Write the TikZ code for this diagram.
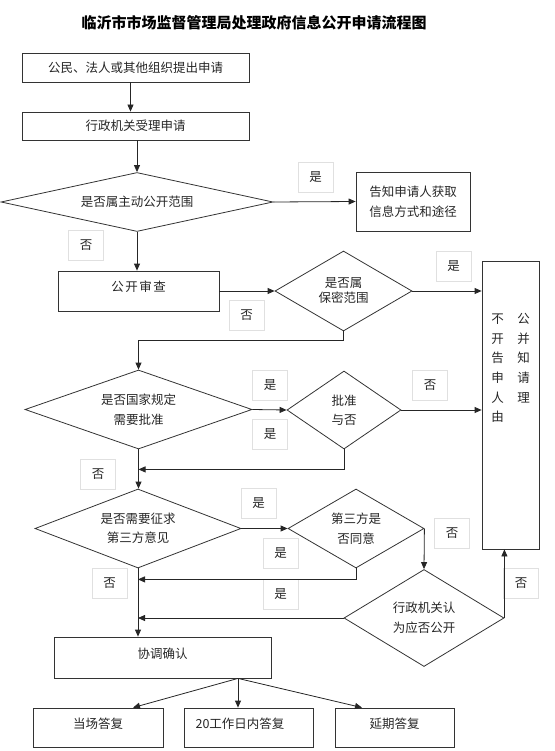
\documentclass[tikz,border=0pt]{standalone}
\usepackage{fontspec}
\setmainfont{Noto Sans CJK SC}
\usetikzlibrary{arrows.meta,shapes.geometric}

\begin{document}
\begin{tikzpicture}[x = 1pt, y = -1pt]
\tikzstyle{BoxStyle}=[
shape = rectangle,
draw = black!80,
line width = 0.8pt,
inner sep = 0pt,
align = center,
text = black!85,
font = \fontsize{12.5}{20}\selectfont]
\tikzstyle{DecideStyle}=[
shape = diamond,
draw = black!80,
line width = 0.8pt,
inner sep = 0pt,
align = center,
text = black!85,
font = \fontsize{12.5}{19.5}\selectfont]
\tikzstyle{NoteStyle}=[
draw = black!12,
line width = 0.6pt,
minimum width = 35pt,
minimum height = 30pt,
inner sep = 0pt,
text = black!85,
font = \fontsize{12.5}{15}\selectfont]
\tikzstyle{RaiseStyle}=[text depth = 9pt]
\tikzstyle{FlowStyle}=[-{Triangle[length = 7pt, width = 6pt]}, draw = black!85, line width = 0.8pt]
\useasboundingbox (0,0) rectangle (554,751);
% title
\node[font = \fontsize{15}{18}\selectfont\bfseries] (title) at (254,23) {临沂市市场监督管理局处理政府信息公开申请流程图};
% boxes and decisions
\node[BoxStyle, minimum width = 227pt, minimum height = 29pt] (apply) at (135.5,67.5) {公民、法人或其他组织提出申请};
\node[BoxStyle, minimum width = 227pt, minimum height = 28pt] (accept) at (135.5,126) {行政机关受理申请};
\node[DecideStyle, minimum width = 272pt, minimum height = 59pt, aspect = 4.6] (active) at (137,202) {是否属主动公开范围};
\node[BoxStyle, minimum width = 114pt, minimum height = 59pt] (inform) at (413,201.5) {告知申请人获取\\信息方式和途径};
\node[BoxStyle, RaiseStyle, minimum width = 161pt, minimum height = 40pt] (review) at (138.5,291) {公\hspace{1.5pt}开\hspace{1.5pt}审\hspace{1.5pt}查};
\node[DecideStyle, minimum width = 137pt, minimum height = 80pt, aspect = 1.7, font = \fontsize{12.5}{15}\selectfont] (secret) at (343.5,291) {是否属\\保密范围};
\node[BoxStyle, minimum width = 57pt, minimum height = 288pt] (refuse) at (510.5,405) {};
\node[align = left, inner sep = 0pt, text = black!85, font = \fontsize{12.5}{19.6}\selectfont] (refusetxt) at (510.5,368) {不\hspace{13.5pt}公\\开\hspace{13.5pt}并\\告\hspace{13.5pt}知\\申\hspace{13.5pt}请\\人\hspace{13.5pt}理\\由};
\node[DecideStyle, minimum width = 227pt, minimum height = 79pt, aspect = 2.9] (approve) at (138.5,409.5) {是否国家规定\\需要批准};
\node[DecideStyle, minimum width = 114pt, minimum height = 78pt, aspect = 1.5] (grant) at (344,410) {批准\\与否};
\node[DecideStyle, minimum width = 206pt, minimum height = 79pt, aspect = 2.6] (third) at (138,528.5) {是否需要征求\\第三方意见};
\node[DecideStyle, minimum width = 136pt, minimum height = 79pt, aspect = 1.7] (agree) at (356,528.5) {第三方是\\否同意};
\node[DecideStyle, minimum width = 160pt, minimum height = 97pt, aspect = 1.65] (decide) at (424,618) {行政机关认\\为应否公开};
\node[BoxStyle, RaiseStyle, minimum width = 217pt, minimum height = 41pt] (confirm) at (162.5,657.5) {协调确认};
\node[BoxStyle, RaiseStyle, minimum width = 130pt, minimum height = 39pt] (reply1) at (98,727.5) {当场答复};
\node[BoxStyle, RaiseStyle, minimum width = 129pt, minimum height = 39pt] (reply2) at (248.5,727.5) {20工作日内答复\hspace{17pt}};
\node[BoxStyle, RaiseStyle, minimum width = 119pt, minimum height = 39pt] (reply3) at (394.5,727.5) {延期答复};
% yes / no labels
\node[NoteStyle] (yes1) at (315.5,177) {是};
\node[NoteStyle] (no1) at (86,245.5) {否};
\node[NoteStyle] (no2) at (246.5,315.5) {否};
\node[NoteStyle] (yes2) at (453.5,266) {是};
\node[NoteStyle] (yes3) at (270,385) {是};
\node[NoteStyle] (yes4) at (270,434) {是};
\node[NoteStyle] (no3) at (430,385) {否};
\node[NoteStyle] (no4) at (98,474.5) {否};
\node[NoteStyle] (yes5) at (258.5,503.5) {是};
\node[NoteStyle] (yes6) at (280.5,553.5) {是};
\node[NoteStyle] (yes7) at (280.5,594) {是};
\node[NoteStyle] (no5) at (109.5,583.5) {否};
\node[NoteStyle] (no6) at (452,533) {否};
\node[NoteStyle] (no7) at (521,583) {否};
% connectors
\draw[FlowStyle] ([xshift = -5pt]apply.south) -- ([xshift = -5pt]accept.north);
\draw[FlowStyle] (accept.south -| active.north) -- (active.north);
\draw[FlowStyle] (active.east) -- (inform.west);
\draw[FlowStyle] (active.south) -- (active.south |- review.north);
\draw[FlowStyle] (review.east) -- (secret.west);
\draw[FlowStyle] (secret.east) -- (secret.east -| refuse.west);
\draw[FlowStyle] (secret.south) -- ++(0,9) -| (approve.north);
\draw[FlowStyle] (approve.east) -- (grant.west);
\draw[FlowStyle] (grant.east) -- (grant.east -| refuse.west);
\draw[FlowStyle] (grant.south) -- ++(0,20) coordinate (back1) -- (back1 -| approve.south);
\draw[FlowStyle] (approve.south) -- (approve.south |- third.north);
\draw[FlowStyle] (third.east) -- (agree.west);
\draw[FlowStyle] (agree.east) -- (decide.north);
\draw[FlowStyle] (agree.south) -- ++(0,11) coordinate (back2) -- (back2 -| third.south);
\draw[FlowStyle] (decide.west) -- (decide.west -| third.south);
\draw[FlowStyle] (decide.east) -- (decide.east |- refuse.south);
\draw[FlowStyle] (third.south) -- (third.south |- confirm.north);
\coordinate (fork) at ([xshift = 75.5pt]confirm.south);
\draw[FlowStyle] (fork) -- ([xshift = 35pt]reply1.north);
\draw[FlowStyle] (fork) -- ([xshift = -10.5pt]reply2.north);
\draw[FlowStyle] (fork) -- ([xshift = -32.5pt]reply3.north);
\end{tikzpicture}
\end{document}
